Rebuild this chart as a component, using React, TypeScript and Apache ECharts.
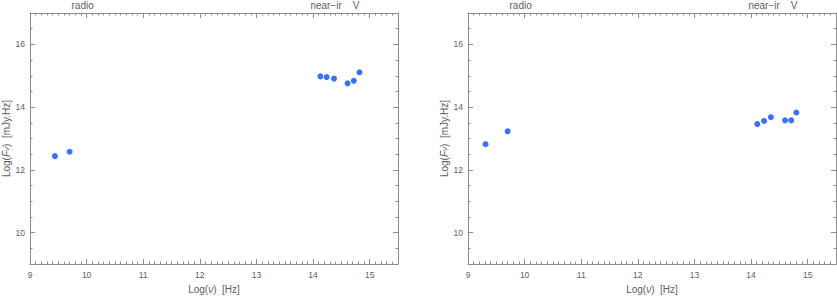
import React, { useEffect, useRef } from "react";
import * as echarts from "echarts";

const xMin = 9;
const xMax = 15.5;
const yMin = 9;
const yMax = 17;
const xMajorTicks = [9, 10, 11, 12, 13, 14, 15];
const yMajorTicks = [10, 12, 14, 16];
const bandNames = ["radio", "near\u2212ir", "V"];
const bandPositions = [9.93, 14.23, 14.76];

const leftLogNu = [9.44, 9.7, 14.13, 14.24, 14.37, 14.61, 14.72, 14.82];
const leftLogF = [12.44, 12.58, 14.98, 14.96, 14.91, 14.76, 14.84, 15.11];
const rightLogNu = [9.31, 9.7, 14.11, 14.23, 14.35, 14.6, 14.71, 14.8];
const rightLogF = [12.82, 13.23, 13.46, 13.56, 13.68, 13.58, 13.58, 13.83];

const LINE = "#8c8c8c";
const TEXT = "#5e5e5e";
const FONT = "Liberation Sans";
const DOT = "#0a4dff";

function bandLabel(v: number): string {
  const i = bandPositions.findIndex((p) => Math.abs(p - v) < 1e-6);
  return i >= 0 ? bandNames[i] : "";
}

function axesFor(g: number) {
  const lbl = { fontSize: 8.5, color: TEXT, fontFamily: FONT };
  const xAxes = [
    {
      type: "value", gridIndex: g, min: xMin, max: xMax, position: "bottom",
      axisLine: { show: true, lineStyle: { color: LINE, width: 1 } },
      axisTick: { show: true, inside: true, length: 5, customValues: xMajorTicks, lineStyle: { color: LINE } },
      axisLabel: { show: true, customValues: xMajorTicks, margin: 6, ...lbl },
      splitLine: { show: false },
      name: "Log({i|ν})  [Hz]", nameLocation: "middle", nameGap: 19,
      nameTextStyle: { fontSize: 10, color: TEXT, fontFamily: FONT, rich: { i: { fontStyle: "italic", fontSize: 10, color: TEXT, fontFamily: FONT } } },
    },
    {
      type: "value", gridIndex: g, min: xMin, max: xMax, interval: 0.1, position: "bottom",
      axisLine: { show: false },
      axisTick: { show: true, inside: true, length: 2.5, lineStyle: { color: LINE } },
      axisLabel: { show: false }, splitLine: { show: false },
    },
    {
      type: "value", gridIndex: g, min: xMin, max: xMax, position: "top",
      axisLine: { show: true, lineStyle: { color: LINE, width: 1 } },
      axisTick: { show: true, inside: true, length: 5, customValues: xMajorTicks, lineStyle: { color: LINE } },
      axisLabel: { show: true, customValues: bandPositions, margin: 3, formatter: (v: number) => bandLabel(v), fontSize: 10, color: TEXT, fontFamily: FONT },
      splitLine: { show: false },
    },
    {
      type: "value", gridIndex: g, min: xMin, max: xMax, interval: 0.1, position: "top",
      axisLine: { show: false },
      axisTick: { show: true, inside: true, length: 2.5, lineStyle: { color: LINE } },
      axisLabel: { show: false }, splitLine: { show: false },
    },
  ];
  const yAxes = [
    {
      type: "value", gridIndex: g, min: yMin, max: yMax, position: "left",
      axisLine: { show: true, lineStyle: { color: LINE, width: 1 } },
      axisTick: { show: true, inside: true, length: 5, customValues: yMajorTicks, lineStyle: { color: LINE } },
      axisLabel: { show: true, customValues: yMajorTicks, margin: 5, ...lbl },
      splitLine: { show: false },
      name: "Log({i|F}{s|ν})  [mJy.Hz]", nameLocation: "middle", nameGap: 18,
      nameTextStyle: {
        fontSize: 10, color: TEXT, fontFamily: FONT,
        rich: {
          i: { fontStyle: "italic", fontSize: 10, color: TEXT, fontFamily: FONT },
          s: { fontStyle: "italic", fontSize: 8, color: TEXT, fontFamily: FONT },
        },
      },
    },
    {
      type: "value", gridIndex: g, min: yMin, max: yMax, interval: 0.5, position: "left",
      axisLine: { show: false },
      axisTick: { show: true, inside: true, length: 2.5, lineStyle: { color: LINE } },
      axisLabel: { show: false }, splitLine: { show: false },
    },
    {
      type: "value", gridIndex: g, min: yMin, max: yMax, position: "right",
      axisLine: { show: true, lineStyle: { color: LINE, width: 1 } },
      axisTick: { show: true, inside: true, length: 5, customValues: yMajorTicks, lineStyle: { color: LINE } },
      axisLabel: { show: false }, splitLine: { show: false },
    },
    {
      type: "value", gridIndex: g, min: yMin, max: yMax, interval: 0.5, position: "right",
      axisLine: { show: false },
      axisTick: { show: true, inside: true, length: 2.5, lineStyle: { color: LINE } },
      axisLabel: { show: false }, splitLine: { show: false },
    },
  ];
  return { xAxes, yAxes };
}

export default function App() {
  const ref = useRef<HTMLDivElement>(null);
  useEffect(() => {
    if (!ref.current) return;
    const chart = echarts.init(ref.current, null, { renderer: "svg" });
    const a0 = axesFor(0);
    const a1 = axesFor(1);
    const pairs = (xs: number[], ys: number[]) => xs.map((x, i) => [x, ys[i]]);
    chart.setOption({
      animation: false,
      backgroundColor: "#ffffff",
      grid: [
        { left: 30, top: 10, width: 368, height: 261 },
        { left: 468, top: 10, width: 368, height: 261 },
      ],
      xAxis: [...a0.xAxes, ...a1.xAxes],
      yAxis: [...a0.yAxes, ...a1.yAxes],
      series: [
        {
          type: "scatter", xAxisIndex: 0, yAxisIndex: 0,
          data: pairs(leftLogNu, leftLogF), symbolSize: 6,
          itemStyle: { color: DOT },
        },
        {
          type: "scatter", xAxisIndex: 4, yAxisIndex: 4,
          data: pairs(rightLogNu, rightLogF), symbolSize: 6,
          itemStyle: { color: DOT },
        },
      ],
    });
    return () => chart.dispose();
  }, []);
  return (
    <div
      ref={ref}
      style={{ position: "fixed", left: 0, top: 0, width: 837, height: 299, background: "#fff" }}
    />
  );
}
